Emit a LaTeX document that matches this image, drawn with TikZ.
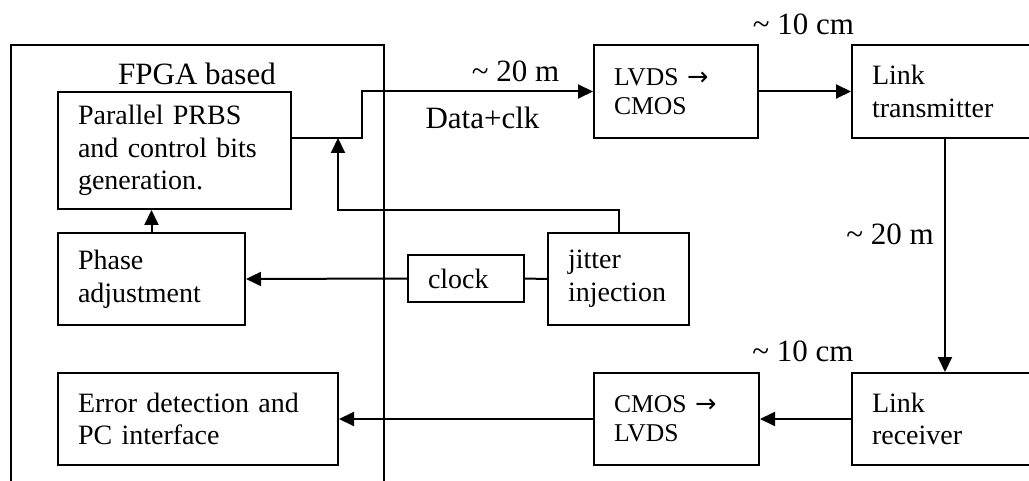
\documentclass[tikz,border=0pt]{standalone}
\usepackage{fontspec}
\setmainfont{Liberation Serif}
\newfontfamily\arrowfont{DejaVu Sans}
\usepackage{tikz}
\usetikzlibrary{positioning,arrows.meta}

\begin{document}
\begin{tikzpicture}[
    x=0.5pt, y=-0.5pt,
    box/.style={rectangle, draw, line width=1pt, anchor=north west, align=left, inner xsep=10pt, inner ysep=0pt, font=\fontsize{14}{16.3}\selectfont},
    smallbox/.style={box, font=\fontsize{12.8}{14.5}\selectfont},
    arrow/.style={-{Triangle[length=7.5pt, width=7pt]}, line width=1pt},
    wire/.style={line width=1pt},
    dist/.style={font=\fontsize{15.5}{18}\selectfont, inner sep=0pt}
]
\useasboundingbox (0,0) rectangle (1029,481);
\clip (0,0) rectangle (1029,481);

% FPGA frame
\node[rectangle, draw, line width=1pt, anchor=north west, inner sep=0pt, minimum width=186.5pt, minimum height=235pt] (fpga) at (10,44) {};
\node[dist] (fpgalabel) at (197,74) {FPGA based};

% FPGA blocks
\node[box, text width=96.5pt, minimum height=58.5pt] (prbs) at (57,91) {Parallel PRBS\\and control bits\\generation.};
\node[box, text width=73.5pt, minimum height=46pt] (phase) at (57,232) {Phase\\adjustment};
\node[box, text width=120pt, minimum height=46pt] (err) at (57,372) {Error detection and\\PC interface};

% Clock and jitter
\node[box, text width=38pt, minimum height=23.5pt] (clock) at (407,254) {clock};
\node[box, text width=50.5pt, minimum height=46pt] (jitter) at (547,232) {jitter\\injection};

% Converters
\node[smallbox, text width=62pt, minimum height=46.5pt] (lvds) at (593,44) {LVDS {\arrowfont →}\\CMOS};
\node[smallbox, text width=62.5pt, minimum height=46pt] (cmos) at (593,372) {CMOS {\arrowfont →}\\LVDS};

% Link
\node[box, text width=73pt, minimum height=46.5pt] (linktx) at (851,44) {Link\\transmitter};
\node[box, text width=73pt, minimum height=46pt] (linkrx) at (851,372) {Link\\receiver};

% Distance labels
\node[dist] (d20a) at (515.5,71.5) {\textasciitilde{} 20 m};
\node[dist] (dclk) at (482.5,117.5) {Data+clk};
\node[dist] (d10a) at (803.5,24.5) {\textasciitilde{} 10 cm};
\node[dist] (d20b) at (890,234.5) {\textasciitilde{} 20 m};
\node[dist] (d10b) at (803,351.5) {\textasciitilde{} 10 cm};

% Arrows
\coordinate (tap) at (338,138);
\draw[arrow] (prbs.east |- tap) -- ++(70,0) |- (lvds.west);
\draw[arrow] (jitter.north) |- (tap |- prbs.south) -- (tap);
\draw[arrow] (phase.north) -- (phase.north |- prbs.south);
\draw[arrow] (clock.west) -- (phase.east);
\draw[wire] (jitter.west) -- (clock.east);
\draw[arrow] (lvds.east) -- (linktx.west);
\draw[arrow] (linktx.south) -- (linkrx.north);
\draw[arrow] (linkrx.west) -- (cmos.east);
\draw[arrow] (cmos.west) -- (err.east);

\end{tikzpicture}
\end{document}
